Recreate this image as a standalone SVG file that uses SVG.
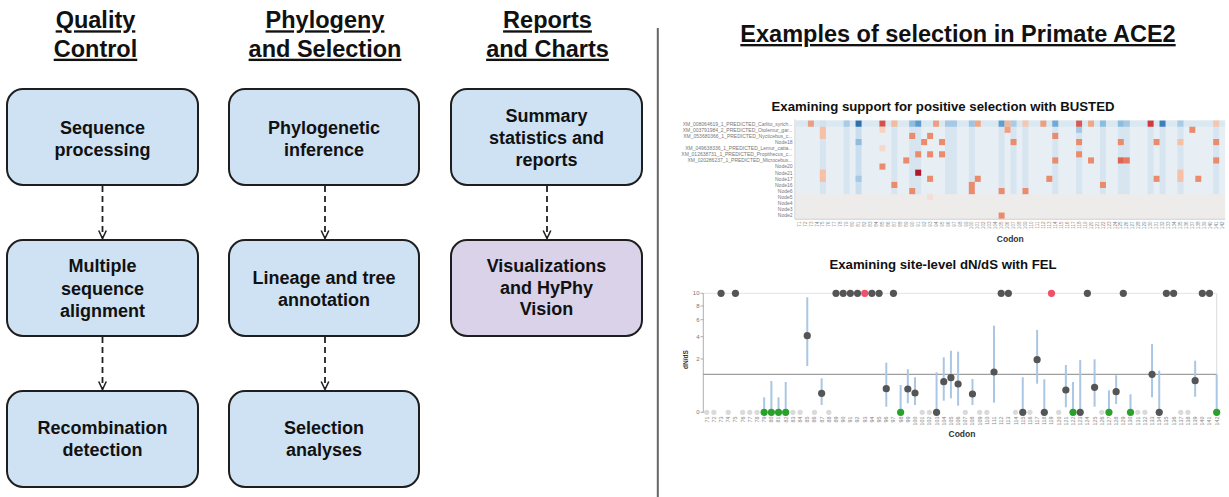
<svg xmlns="http://www.w3.org/2000/svg" width="1229" height="497" viewBox="0 0 1229 497">
<style>
text{font-family:"Liberation Sans",Arial,sans-serif}
.hdr{font-size:23.5px;font-weight:bold;text-anchor:middle;fill:#111;text-decoration:underline}
.box{fill:#cfe2f3;stroke:#1e1e1e;stroke-width:2}
.pur{fill:#d9d2e9}
.lbl{font-size:18px;font-weight:bold;text-anchor:middle;fill:#111}
.conn{stroke:#222;stroke-width:1.8;stroke-dasharray:6 4;fill:none;marker-end:url(#arr)}
.ctitle{font-size:13.2px;font-weight:bold;text-anchor:middle;fill:#111}
.axt{font-size:8.5px;font-weight:bold;text-anchor:middle;fill:#333}
.rl{font-size:5px;text-anchor:end;fill:#777}
.hx{font-size:4.6px;text-anchor:end;fill:#888}
.fx{font-size:5.4px;text-anchor:end;fill:#888}
.yt{font-size:6px;text-anchor:end;fill:#777}
.bb{fill:#bcd7ec;opacity:.38}
.o{fill:#ea8c6c}
.ol{fill:#f6c0a6}
.bar{stroke:#a9c7e4;stroke-width:2}
.pt{fill:#555}
.gh{fill:#dadada}
.gr{fill:#2ca02c}
.rd{fill:#f05068}
</style>
<defs>
<marker id="arr" markerUnits="userSpaceOnUse" markerWidth="12" markerHeight="12" viewBox="-1 -6 12 12" refX="9" refY="0" orient="auto">
<path d="M1,-3.8 L9,0 L1,3.8" fill="none" stroke="#222" stroke-width="1.6"/>
</marker>
</defs>
<rect width="1229" height="497" fill="#ffffff"/>

<!-- headers -->
<g id="headers">
<text class="hdr" x="95.5" y="28.3">Quality</text>
<text class="hdr" x="95.5" y="56.7">Control</text>
<text class="hdr" x="325" y="28.3">Phylogeny</text>
<text class="hdr" x="325" y="56.7">and Selection</text>
<text class="hdr" x="547.5" y="28.3">Reports</text>
<text class="hdr" x="547.5" y="56.7">and Charts</text>
<text class="hdr" x="958" y="42">Examples of selection in Primate ACE2</text>
</g>
<line x1="657.8" y1="28" x2="657.8" y2="497" stroke="#666" stroke-width="2"/>

<!-- nodes -->
<g id="node-sequence-processing"><rect class="box" x="7" y="89" width="191" height="96" rx="16"/>
<text class="lbl" x="102.5" y="134">Sequence</text><text class="lbl" x="102.5" y="156">processing</text></g>
<g id="node-msa"><rect class="box" x="7" y="240" width="191" height="96" rx="16"/>
<text class="lbl" x="102.5" y="272">Multiple</text><text class="lbl" x="102.5" y="294.5">sequence</text><text class="lbl" x="102.5" y="317">alignment</text></g>
<g id="node-recombination"><rect class="box" x="7" y="391" width="191" height="96" rx="16"/>
<text class="lbl" x="102.5" y="433.5">Recombination</text><text class="lbl" x="102.5" y="456">detection</text></g>

<g id="node-phylogenetic"><rect class="box" x="229" y="89" width="190" height="96" rx="16"/>
<text class="lbl" x="324" y="134">Phylogenetic</text><text class="lbl" x="324" y="156">inference</text></g>
<g id="node-lineage"><rect class="box" x="229" y="240" width="190" height="96" rx="16"/>
<text class="lbl" x="324" y="284">Lineage and tree</text><text class="lbl" x="324" y="306">annotation</text></g>
<g id="node-selection"><rect class="box" x="229" y="391" width="190" height="96" rx="16"/>
<text class="lbl" x="324" y="433.5">Selection</text><text class="lbl" x="324" y="456">analyses</text></g>

<g id="node-summary"><rect class="box" x="451" y="89" width="191" height="96" rx="16"/>
<text class="lbl" x="546.5" y="122">Summary</text><text class="lbl" x="546.5" y="143.5">statistics and</text><text class="lbl" x="546.5" y="165.5">reports</text></g>
<g id="node-visualizations"><rect class="box pur" x="451" y="240" width="191" height="96" rx="16"/>
<text class="lbl" x="546.5" y="272">Visualizations</text><text class="lbl" x="546.5" y="293.5">and HyPhy</text><text class="lbl" x="546.5" y="315">Vision</text></g>

<!-- connectors -->
<g id="connectors">
<path class="conn" d="M102.5,186 V238.5"/>
<path class="conn" d="M102.5,337 V389.5"/>
<path class="conn" d="M325,186 V238.5"/>
<path class="conn" d="M325,337 V389.5"/>
<path class="conn" d="M547,186 V238.5"/>
</g>

<!-- BUSTED heatmap -->
<g id="chart-busted">
<text class="ctitle" x="943" y="110.5">Examining support for positive selection with BUSTED</text>
<rect x="796" y="120.6" width="429.1" height="98.1" fill="#eeeceb"/>
<rect x="796" y="120.6" width="429.1" height="73.6" fill="#e7eef4"/>
<rect x="796" y="120.6" width="429.1" height="6.13" fill="#dae8f2"/>
<g>
<rect class="bb" x="819.84" y="120.6" width="5.96" height="73.6"/>
<rect class="bb" x="843.68" y="120.6" width="5.96" height="73.6"/>
<rect class="bb" x="855.6" y="120.6" width="5.96" height="73.6" style="opacity:.7"/>
<rect class="bb" x="891.36" y="120.6" width="5.96" height="73.6"/>
<rect class="bb" x="909.24" y="120.6" width="5.96" height="73.6"/>
<rect class="bb" x="915.2" y="120.6" width="5.96" height="73.6"/>
<rect class="bb" x="945" y="120.6" width="5.96" height="73.6"/>
<rect class="bb" x="950.96" y="120.6" width="5.96" height="73.6"/>
<rect class="bb" x="968.84" y="120.6" width="5.96" height="73.6"/>
<rect class="bb" x="998.64" y="120.6" width="5.96" height="73.6"/>
<rect class="bb" x="1010.56" y="120.6" width="5.96" height="73.6"/>
<rect class="bb" x="1022.48" y="120.6" width="5.96" height="73.6"/>
<rect class="bb" x="1052.28" y="120.6" width="5.96" height="73.6"/>
<rect class="bb" x="1076.12" y="120.6" width="5.96" height="73.6"/>
<rect class="bb" x="1099.96" y="120.6" width="5.96" height="73.6"/>
<rect class="bb" x="1117.84" y="120.6" width="5.96" height="73.6"/>
<rect class="bb" x="1123.8" y="120.6" width="5.96" height="73.6"/>
<rect class="bb" x="1147.64" y="120.6" width="5.96" height="73.6"/>
<rect class="bb" x="1159.56" y="120.6" width="5.96" height="73.6"/>
<rect class="bb" x="1177.44" y="120.6" width="5.96" height="73.6"/>
<rect class="bb" x="1213.2" y="120.6" width="5.96" height="73.6"/>
</g>
<g>
<rect x="843.68" y="120.6" width="5.96" height="6.13" fill="#a9cbe6"/>
<rect x="855.6" y="120.6" width="5.96" height="6.13" fill="#2f6fae"/>
<rect x="855.6" y="138.99" width="5.96" height="6.13" fill="#8fbde0"/>
<rect x="855.6" y="175.77" width="5.96" height="6.13" fill="#a5c8e5"/>
<rect x="909.24" y="120.6" width="5.96" height="6.13" fill="#8fbde0"/>
<rect x="915.2" y="120.6" width="5.96" height="6.13" fill="#5a9bd0"/>
<rect x="945" y="120.6" width="5.96" height="6.13" fill="#a5c8e5"/>
<rect x="950.96" y="120.6" width="5.96" height="6.13" fill="#a5c8e5"/>
<rect x="968.84" y="120.6" width="5.96" height="6.13" fill="#9cc5e5"/>
<rect x="998.64" y="120.6" width="5.96" height="6.13" fill="#5d9fd1"/>
<rect x="1010.56" y="120.6" width="5.96" height="6.13" fill="#a9cbe6"/>
<rect x="1052.28" y="120.6" width="5.96" height="6.13" fill="#6fa9d6"/>
<rect x="1076.12" y="126.73" width="5.96" height="6.13" fill="#a5c8e5"/>
<rect x="1099.96" y="120.6" width="5.96" height="6.13" fill="#8cbde0"/>
<rect x="1117.84" y="120.6" width="5.96" height="6.13" fill="#8cbde0"/>
<rect x="1123.8" y="120.6" width="5.96" height="6.13" fill="#a5c8e5"/>
<rect x="1159.56" y="120.6" width="5.96" height="6.13" fill="#3c7fbf"/>
<rect x="1177.44" y="120.6" width="5.96" height="6.13" fill="#a9cbe6"/>
</g>
<g>
<rect x="807.92" y="120.6" width="5.96" height="6.13" fill="#ee9d80"/>
<rect x="879.44" y="120.6" width="5.96" height="6.13" fill="#d6504a"/>
<rect x="891.36" y="120.6" width="5.96" height="6.13" fill="#f6b99c"/>
<rect x="933.08" y="120.6" width="5.96" height="6.13" fill="#ee9d80"/>
<rect x="974.8" y="120.6" width="5.96" height="6.13" fill="#f4a582"/>
<rect x="1004.6" y="120.6" width="5.96" height="6.13" fill="#f4b496"/>
<rect x="1022.48" y="120.6" width="5.96" height="6.13" fill="#f8c6ad"/>
<rect x="1040.36" y="120.6" width="5.96" height="6.13" fill="#ee9d80"/>
<rect x="1076.12" y="120.6" width="5.96" height="6.13" fill="#d9574b"/>
<rect x="1088.04" y="120.6" width="5.96" height="6.13" fill="#f4a582"/>
<rect x="1147.64" y="120.6" width="5.96" height="6.13" fill="#d2383c"/>
<rect x="1213.2" y="120.6" width="5.96" height="6.13" fill="#f7c5ae"/>

<rect class="ol" x="819.84" y="126.73" width="5.96" height="6.13"/>
<rect x="879.44" y="126.73" width="5.96" height="6.13" fill="#f8d3c0"/>
<rect x="1004.6" y="126.73" width="5.96" height="6.13" fill="#f0a07f"/>
<rect class="o" x="1189.36" y="126.73" width="5.96" height="6.13"/>

<rect class="ol" x="819.84" y="132.86" width="5.96" height="6.13"/>
<rect class="o" x="909.24" y="132.86" width="5.96" height="6.13"/>
<rect class="o" x="927.12" y="132.86" width="5.96" height="6.13"/>
<rect class="o" x="1052.28" y="132.86" width="5.96" height="6.13"/>

<rect class="o" x="921.16" y="138.99" width="5.96" height="6.13"/>
<rect class="o" x="939.04" y="138.99" width="5.96" height="6.13"/>
<rect class="o" x="1010.56" y="138.99" width="5.96" height="6.13"/>
<rect class="o" x="1076.12" y="138.99" width="5.96" height="6.13"/>
<rect class="o" x="1117.84" y="138.99" width="5.96" height="6.13"/>
<rect class="o" x="1153.6" y="138.99" width="5.96" height="6.13"/>
<rect class="ol" x="1177.44" y="138.99" width="5.96" height="6.13"/>
<rect class="o" x="1213.2" y="138.99" width="5.96" height="6.13"/>

<rect x="879.44" y="145.12" width="5.96" height="6.13" fill="#f7d8ca"/>

<rect class="o" x="915.2" y="151.25" width="5.96" height="6.13"/>
<rect class="o" x="927.12" y="151.25" width="5.96" height="6.13"/>
<rect class="o" x="939.04" y="151.25" width="5.96" height="6.13"/>
<rect class="o" x="1076.12" y="151.25" width="5.96" height="6.13"/>

<rect class="o" x="903.28" y="157.38" width="5.96" height="6.13"/>
<rect class="o" x="1052.28" y="157.38" width="5.96" height="6.13"/>
<rect class="o" x="1088.04" y="157.38" width="5.96" height="6.13"/>
<rect x="1117.84" y="157.38" width="5.96" height="6.13" fill="#dc6450"/>
<rect x="1123.8" y="157.38" width="5.96" height="6.13" fill="#e47a62"/>
<rect class="o" x="1213.2" y="157.38" width="5.96" height="6.13"/>

<rect class="o" x="879.44" y="163.51" width="5.96" height="6.13"/>

<rect class="ol" x="819.84" y="169.64" width="5.96" height="6.13"/>
<rect x="915.2" y="169.64" width="5.96" height="6.13" fill="#b2182b"/>
<rect class="ol" x="1177.44" y="169.64" width="5.96" height="6.13"/>

<rect class="ol" x="819.84" y="175.77" width="5.96" height="6.13"/>
<rect class="o" x="927.12" y="175.77" width="5.96" height="6.13"/>
<rect class="o" x="974.8" y="175.77" width="5.96" height="6.13"/>
<rect class="o" x="1046.32" y="175.77" width="5.96" height="6.13"/>
<rect class="o" x="1153.6" y="175.77" width="5.96" height="6.13"/>
<rect class="ol" x="1177.44" y="175.77" width="5.96" height="6.13"/>
<rect class="o" x="1195.32" y="175.77" width="5.96" height="6.13"/>

<rect class="o" x="891.36" y="181.9" width="5.96" height="6.13"/>
<rect class="o" x="968.84" y="181.9" width="5.96" height="6.13"/>
<rect class="o" x="1099.96" y="181.9" width="5.96" height="6.13"/>

<rect class="o" x="909.24" y="188.03" width="5.96" height="6.13"/>
<rect class="o" x="968.84" y="188.03" width="5.96" height="6.13"/>
<rect class="o" x="998.64" y="188.03" width="5.96" height="6.13"/>
<rect class="o" x="1022.48" y="188.03" width="5.96" height="6.13"/>

<rect x="927.12" y="194.16" width="5.96" height="6.13" fill="#f2e0d8"/>
<rect class="o" x="998.64" y="212.55" width="5.96" height="6.13"/>
</g>
<line x1="795" y1="119.5" x2="795" y2="219" stroke="#aaa" stroke-width="0.6"/>
<line x1="795" y1="219.2" x2="1225.2" y2="219.2" stroke="#aaa" stroke-width="0.6"/>
<g>
<text class="rl" x="792.5" y="125.5">XM_008064619_1_PREDICTED_Carlito_syrich...</text>
<text class="rl" x="792.5" y="131.6">XM_003791984_2_PREDICTED_Otolemur_gar...</text>
<text class="rl" x="792.5" y="137.7">XM_053680366_1_PREDICTED_Nycticebus_c...</text>
<text class="rl" x="792.5" y="143.9">Node18</text>
<text class="rl" x="792.5" y="150">XM_049638336_1_PREDICTED_Lemur_catta...</text>
<text class="rl" x="792.5" y="156.1">XM_012638731_1_PREDICTED_Propithecus_c...</text>
<text class="rl" x="792.5" y="162.3">XM_020286237_1_PREDICTED_Microcebus...</text>
<text class="rl" x="792.5" y="168.4">Node20</text>
<text class="rl" x="792.5" y="174.5">Node21</text>
<text class="rl" x="792.5" y="180.6">Node17</text>
<text class="rl" x="792.5" y="186.8">Node16</text>
<text class="rl" x="792.5" y="192.9">Node6</text>
<text class="rl" x="792.5" y="199">Node5</text>
<text class="rl" x="792.5" y="205.2">Node4</text>
<text class="rl" x="792.5" y="211.3">Node3</text>
<text class="rl" x="792.5" y="217.4">Node2</text>
</g>
<g>
<text class="hx" transform="translate(800.6,221.5) rotate(-90)">71</text>
<text class="hx" transform="translate(806.5,221.5) rotate(-90)">72</text>
<text class="hx" transform="translate(812.5,221.5) rotate(-90)">73</text>
<text class="hx" transform="translate(818.5,221.5) rotate(-90)">74</text>
<text class="hx" transform="translate(824.4,221.5) rotate(-90)">75</text>
<text class="hx" transform="translate(830.4,221.5) rotate(-90)">76</text>
<text class="hx" transform="translate(836.3,221.5) rotate(-90)">77</text>
<text class="hx" transform="translate(842.3,221.5) rotate(-90)">78</text>
<text class="hx" transform="translate(848.3,221.5) rotate(-90)">79</text>
<text class="hx" transform="translate(854.2,221.5) rotate(-90)">80</text>
<text class="hx" transform="translate(860.2,221.5) rotate(-90)">81</text>
<text class="hx" transform="translate(866.1,221.5) rotate(-90)">82</text>
<text class="hx" transform="translate(872.1,221.5) rotate(-90)">83</text>
<text class="hx" transform="translate(878.1,221.5) rotate(-90)">84</text>
<text class="hx" transform="translate(884,221.5) rotate(-90)">85</text>
<text class="hx" transform="translate(890,221.5) rotate(-90)">86</text>
<text class="hx" transform="translate(895.9,221.5) rotate(-90)">87</text>
<text class="hx" transform="translate(901.9,221.5) rotate(-90)">88</text>
<text class="hx" transform="translate(907.9,221.5) rotate(-90)">89</text>
<text class="hx" transform="translate(913.8,221.5) rotate(-90)">90</text>
<text class="hx" transform="translate(919.8,221.5) rotate(-90)">91</text>
<text class="hx" transform="translate(925.7,221.5) rotate(-90)">92</text>
<text class="hx" transform="translate(931.7,221.5) rotate(-90)">93</text>
<text class="hx" transform="translate(937.7,221.5) rotate(-90)">94</text>
<text class="hx" transform="translate(943.6,221.5) rotate(-90)">95</text>
<text class="hx" transform="translate(949.6,221.5) rotate(-90)">96</text>
<text class="hx" transform="translate(955.5,221.5) rotate(-90)">97</text>
<text class="hx" transform="translate(961.5,221.5) rotate(-90)">98</text>
<text class="hx" transform="translate(967.5,221.5) rotate(-90)">99</text>
<text class="hx" transform="translate(973.4,221.5) rotate(-90)">100</text>
<text class="hx" transform="translate(979.4,221.5) rotate(-90)">101</text>
<text class="hx" transform="translate(985.3,221.5) rotate(-90)">102</text>
<text class="hx" transform="translate(991.3,221.5) rotate(-90)">103</text>
<text class="hx" transform="translate(997.3,221.5) rotate(-90)">104</text>
<text class="hx" transform="translate(1003.2,221.5) rotate(-90)">105</text>
<text class="hx" transform="translate(1009.2,221.5) rotate(-90)">106</text>
<text class="hx" transform="translate(1015.1,221.5) rotate(-90)">107</text>
<text class="hx" transform="translate(1021.1,221.5) rotate(-90)">108</text>
<text class="hx" transform="translate(1027.1,221.5) rotate(-90)">109</text>
<text class="hx" transform="translate(1033,221.5) rotate(-90)">110</text>
<text class="hx" transform="translate(1039,221.5) rotate(-90)">111</text>
<text class="hx" transform="translate(1044.9,221.5) rotate(-90)">112</text>
<text class="hx" transform="translate(1050.9,221.5) rotate(-90)">113</text>
<text class="hx" transform="translate(1056.9,221.5) rotate(-90)">114</text>
<text class="hx" transform="translate(1062.8,221.5) rotate(-90)">115</text>
<text class="hx" transform="translate(1068.8,221.5) rotate(-90)">116</text>
<text class="hx" transform="translate(1074.7,221.5) rotate(-90)">117</text>
<text class="hx" transform="translate(1080.7,221.5) rotate(-90)">118</text>
<text class="hx" transform="translate(1086.7,221.5) rotate(-90)">119</text>
<text class="hx" transform="translate(1092.6,221.5) rotate(-90)">120</text>
<text class="hx" transform="translate(1098.6,221.5) rotate(-90)">121</text>
<text class="hx" transform="translate(1104.5,221.5) rotate(-90)">122</text>
<text class="hx" transform="translate(1110.5,221.5) rotate(-90)">123</text>
<text class="hx" transform="translate(1116.5,221.5) rotate(-90)">124</text>
<text class="hx" transform="translate(1122.4,221.5) rotate(-90)">125</text>
<text class="hx" transform="translate(1128.4,221.5) rotate(-90)">126</text>
<text class="hx" transform="translate(1134.3,221.5) rotate(-90)">127</text>
<text class="hx" transform="translate(1140.3,221.5) rotate(-90)">128</text>
<text class="hx" transform="translate(1146.3,221.5) rotate(-90)">129</text>
<text class="hx" transform="translate(1152.2,221.5) rotate(-90)">130</text>
<text class="hx" transform="translate(1158.2,221.5) rotate(-90)">131</text>
<text class="hx" transform="translate(1164.1,221.5) rotate(-90)">132</text>
<text class="hx" transform="translate(1170.1,221.5) rotate(-90)">133</text>
<text class="hx" transform="translate(1176.1,221.5) rotate(-90)">134</text>
<text class="hx" transform="translate(1182,221.5) rotate(-90)">135</text>
<text class="hx" transform="translate(1188,221.5) rotate(-90)">136</text>
<text class="hx" transform="translate(1193.9,221.5) rotate(-90)">137</text>
<text class="hx" transform="translate(1199.9,221.5) rotate(-90)">138</text>
<text class="hx" transform="translate(1205.9,221.5) rotate(-90)">139</text>
<text class="hx" transform="translate(1211.8,221.5) rotate(-90)">140</text>
<text class="hx" transform="translate(1217.8,221.5) rotate(-90)">141</text>
<text class="hx" transform="translate(1223.7,221.5) rotate(-90)">142</text>
</g>
<text class="axt" x="1010.3" y="241.5">Codon</text>
</g>

<!-- FEL dot plot -->
<g id="chart-fel">
<text class="ctitle" x="943" y="269">Examining site-level dN/dS with FEL</text>
<line x1="703.3" y1="293.3" x2="1216.7" y2="293.3" stroke="#e4e4e4" stroke-width="1"/>
<line x1="1216.7" y1="293.3" x2="1216.7" y2="374.3" stroke="#dcdcdc" stroke-width="1"/>
<line x1="703.3" y1="293.3" x2="703.3" y2="412.8" stroke="#999" stroke-width="0.8"/>
<g stroke="#999" stroke-width="0.8">
<line x1="700.5" y1="293.3" x2="703.3" y2="293.3"/><line x1="700.5" y1="306" x2="703.3" y2="306"/>
<line x1="700.5" y1="319.7" x2="703.3" y2="319.7"/><line x1="700.5" y1="336.7" x2="703.3" y2="336.7"/>
<line x1="700.5" y1="359" x2="703.3" y2="359"/><line x1="700.5" y1="412.3" x2="703.3" y2="412.3"/>
</g>
<text class="yt" x="699.5" y="295.4">10</text><text class="yt" x="699.5" y="308.1">8</text>
<text class="yt" x="699.5" y="321.8">6</text><text class="yt" x="699.5" y="338.8">4</text>
<text class="yt" x="699.5" y="361.1">2</text><text class="yt" x="699.5" y="414.4">0</text>
<text transform="translate(687.5,359.5) rotate(-90)" style="font-size:6.5px;font-weight:bold;text-anchor:middle;fill:#333">dN/dS</text>
<line x1="703.3" y1="374.3" x2="1216.7" y2="374.3" stroke="#888" stroke-width="1"/>
<g>
<line class="bar" x1="807.26" y1="297.3" x2="807.26" y2="366"/>
<line class="bar" x1="821.63" y1="378.3" x2="821.63" y2="405"/>
<line class="bar" x1="886.28" y1="362.7" x2="886.28" y2="406.7"/>
<line class="bar" x1="907.82" y1="369.3" x2="907.82" y2="403.3"/>
<line class="bar" x1="915.01" y1="377.3" x2="915.01" y2="405"/>
<line class="bar" x1="943.74" y1="357.3" x2="943.74" y2="400.7"/>
<line class="bar" x1="950.92" y1="350.7" x2="950.92" y2="398.3"/>
<line class="bar" x1="958.11" y1="351.7" x2="958.11" y2="405.7"/>
<line class="bar" x1="972.47" y1="379" x2="972.47" y2="405"/>
<line class="bar" x1="994.02" y1="325.7" x2="994.02" y2="402.7"/>
<line class="bar" x1="1037.12" y1="330" x2="1037.12" y2="383.7"/>
<line class="bar" x1="1065.85" y1="365" x2="1065.85" y2="407.3"/>
<line class="bar" x1="1094.58" y1="359.3" x2="1094.58" y2="406.7"/>
<line class="bar" x1="1116.13" y1="375.3" x2="1116.13" y2="404"/>
<line class="bar" x1="1152.05" y1="344" x2="1152.05" y2="397.3"/>
<line class="bar" x1="1195.14" y1="360.7" x2="1195.14" y2="396.7"/>
<line class="bar" x1="936.56" y1="372.3" x2="936.56" y2="412.3"/>
<line class="bar" x1="1022.75" y1="377.3" x2="1022.75" y2="412.3"/>
<line class="bar" x1="1044.3" y1="379.3" x2="1044.3" y2="412.3"/>
<line class="bar" x1="1080.22" y1="360" x2="1080.22" y2="412.3"/>
<line class="bar" x1="1159.23" y1="370.7" x2="1159.23" y2="412.3"/>
<line class="bar" x1="764.16" y1="397.3" x2="764.16" y2="412.3"/>
<line class="bar" x1="771.35" y1="381" x2="771.35" y2="412.3"/>
<line class="bar" x1="778.53" y1="397.3" x2="778.53" y2="412.3"/>
<line class="bar" x1="785.71" y1="382" x2="785.71" y2="412.3"/>
<line class="bar" x1="900.64" y1="385" x2="900.64" y2="412.3"/>
<line class="bar" x1="1073.03" y1="382" x2="1073.03" y2="412.3"/>
<line class="bar" x1="1108.95" y1="390.3" x2="1108.95" y2="412.3"/>
<line class="bar" x1="1130.5" y1="394.3" x2="1130.5" y2="412.3"/>
<line class="bar" x1="1216.69" y1="374.3" x2="1216.69" y2="412.3"/>
</g>
<g>
<circle class="gh" cx="706.7" cy="412.3" r="2.6"/><circle class="gh" cx="713.88" cy="412.3" r="2.6"/>
<circle class="gh" cx="728.25" cy="412.3" r="2.6"/><circle class="gh" cx="742.62" cy="412.3" r="2.6"/>
<circle class="gh" cx="749.8" cy="412.3" r="2.6"/><circle class="gh" cx="756.98" cy="412.3" r="2.6"/>
<circle class="gh" cx="792.9" cy="412.3" r="2.6"/><circle class="gh" cx="800.08" cy="412.3" r="2.6"/>
<circle class="gh" cx="814.45" cy="412.3" r="2.6"/><circle class="gh" cx="828.81" cy="412.3" r="2.6"/>
<circle class="gh" cx="922.19" cy="412.3" r="2.6"/><circle class="gh" cx="929.37" cy="412.3" r="2.6"/>
<circle class="gh" cx="965.29" cy="412.3" r="2.6"/><circle class="gh" cx="979.65" cy="412.3" r="2.6"/>
<circle class="gh" cx="986.84" cy="412.3" r="2.6"/><circle class="gh" cx="1015.57" cy="412.3" r="2.6"/>
<circle class="gh" cx="1029.94" cy="412.3" r="2.6"/><circle class="gh" cx="1058.67" cy="412.3" r="2.6"/>
<circle class="gh" cx="1101.77" cy="412.3" r="2.6"/><circle class="gh" cx="1137.68" cy="412.3" r="2.6"/>
<circle class="gh" cx="1144.86" cy="412.3" r="2.6"/><circle class="gh" cx="1180.78" cy="412.3" r="2.6"/>
<circle class="gh" cx="1187.96" cy="412.3" r="2.6"/>
</g>
<g>
<circle class="pt" cx="721.07" cy="293.3" r="3.6"/><circle class="pt" cx="735.43" cy="293.3" r="3.6"/>
<circle class="pt" cx="835.99" cy="293.3" r="3.6"/><circle class="pt" cx="843.18" cy="293.3" r="3.6"/>
<circle class="pt" cx="850.36" cy="293.3" r="3.6"/><circle class="pt" cx="857.54" cy="293.3" r="3.6"/>
<circle class="rd" cx="864.73" cy="293.3" r="3.6"/>
<circle class="pt" cx="871.91" cy="293.3" r="3.6"/><circle class="pt" cx="879.09" cy="293.3" r="3.6"/>
<circle class="pt" cx="893.46" cy="293.3" r="3.6"/>
<circle class="pt" cx="1001.2" cy="293.3" r="3.6"/><circle class="pt" cx="1008.39" cy="293.3" r="3.6"/>
<circle class="rd" cx="1051.48" cy="293.3" r="3.6"/>
<circle class="pt" cx="1087.4" cy="293.3" r="3.6"/><circle class="pt" cx="1123.31" cy="293.3" r="3.6"/>
<circle class="pt" cx="1166.41" cy="293.3" r="3.6"/><circle class="pt" cx="1173.6" cy="293.3" r="3.6"/>
<circle class="pt" cx="1202.33" cy="293.3" r="3.6"/><circle class="pt" cx="1209.51" cy="293.3" r="3.6"/>

<circle class="pt" cx="807.26" cy="335.7" r="3.6"/><circle class="pt" cx="821.63" cy="393.3" r="3.6"/>
<circle class="pt" cx="886.28" cy="388.7" r="3.6"/><circle class="pt" cx="907.82" cy="389" r="3.6"/>
<circle class="pt" cx="915.01" cy="393" r="3.6"/><circle class="pt" cx="943.74" cy="381.7" r="3.6"/>
<circle class="pt" cx="950.92" cy="377.7" r="3.6"/><circle class="pt" cx="958.11" cy="384" r="3.6"/>
<circle class="pt" cx="972.47" cy="394" r="3.6"/><circle class="pt" cx="994.02" cy="372" r="3.6"/>
<circle class="pt" cx="1037.12" cy="359.7" r="3.6"/><circle class="pt" cx="1065.85" cy="390" r="3.6"/>
<circle class="pt" cx="1094.58" cy="387.3" r="3.6"/><circle class="pt" cx="1116.13" cy="391.7" r="3.6"/>
<circle class="pt" cx="1152.05" cy="374.3" r="3.6"/><circle class="pt" cx="1195.14" cy="380.7" r="3.6"/>

<circle class="pt" cx="936.56" cy="412.3" r="3.6"/><circle class="pt" cx="1022.75" cy="412.3" r="3.6"/>
<circle class="pt" cx="1044.3" cy="412.3" r="3.6"/><circle class="pt" cx="1080.22" cy="412.3" r="3.6"/>
<circle class="pt" cx="1159.23" cy="412.3" r="3.6"/>

<circle class="gr" cx="764.16" cy="412.3" r="3.6"/><circle class="gr" cx="771.35" cy="412.3" r="3.6"/>
<circle class="gr" cx="778.53" cy="412.3" r="3.6"/><circle class="gr" cx="785.71" cy="412.3" r="3.6"/>
<circle class="gr" cx="900.64" cy="412.3" r="3.6"/><circle class="gr" cx="1073.03" cy="412.3" r="3.6"/>
<circle class="gr" cx="1108.95" cy="412.3" r="3.6"/><circle class="gr" cx="1130.5" cy="412.3" r="3.6"/>
<circle class="gr" cx="1216.69" cy="412.3" r="3.6"/>
</g>
<g>
<text class="fx" transform="translate(708.6,416.5) rotate(-90)">71</text>
<text class="fx" transform="translate(715.8,416.5) rotate(-90)">72</text>
<text class="fx" transform="translate(723,416.5) rotate(-90)">73</text>
<text class="fx" transform="translate(730.2,416.5) rotate(-90)">74</text>
<text class="fx" transform="translate(737.3,416.5) rotate(-90)">75</text>
<text class="fx" transform="translate(744.5,416.5) rotate(-90)">76</text>
<text class="fx" transform="translate(751.7,416.5) rotate(-90)">77</text>
<text class="fx" transform="translate(758.9,416.5) rotate(-90)">78</text>
<text class="fx" transform="translate(766.1,416.5) rotate(-90)">79</text>
<text class="fx" transform="translate(773.3,416.5) rotate(-90)">80</text>
<text class="fx" transform="translate(780.4,416.5) rotate(-90)">81</text>
<text class="fx" transform="translate(787.6,416.5) rotate(-90)">82</text>
<text class="fx" transform="translate(794.8,416.5) rotate(-90)">83</text>
<text class="fx" transform="translate(802,416.5) rotate(-90)">84</text>
<text class="fx" transform="translate(809.2,416.5) rotate(-90)">85</text>
<text class="fx" transform="translate(816.4,416.5) rotate(-90)">86</text>
<text class="fx" transform="translate(823.5,416.5) rotate(-90)">87</text>
<text class="fx" transform="translate(830.7,416.5) rotate(-90)">88</text>
<text class="fx" transform="translate(837.9,416.5) rotate(-90)">89</text>
<text class="fx" transform="translate(845.1,416.5) rotate(-90)">90</text>
<text class="fx" transform="translate(852.3,416.5) rotate(-90)">91</text>
<text class="fx" transform="translate(859.4,416.5) rotate(-90)">92</text>
<text class="fx" transform="translate(866.6,416.5) rotate(-90)">93</text>
<text class="fx" transform="translate(873.8,416.5) rotate(-90)">94</text>
<text class="fx" transform="translate(881,416.5) rotate(-90)">95</text>
<text class="fx" transform="translate(888.2,416.5) rotate(-90)">96</text>
<text class="fx" transform="translate(895.4,416.5) rotate(-90)">97</text>
<text class="fx" transform="translate(902.5,416.5) rotate(-90)">98</text>
<text class="fx" transform="translate(909.7,416.5) rotate(-90)">99</text>
<text class="fx" transform="translate(916.9,416.5) rotate(-90)">100</text>
<text class="fx" transform="translate(924.1,416.5) rotate(-90)">101</text>
<text class="fx" transform="translate(931.3,416.5) rotate(-90)">102</text>
<text class="fx" transform="translate(938.5,416.5) rotate(-90)">103</text>
<text class="fx" transform="translate(945.6,416.5) rotate(-90)">104</text>
<text class="fx" transform="translate(952.8,416.5) rotate(-90)">105</text>
<text class="fx" transform="translate(960,416.5) rotate(-90)">106</text>
<text class="fx" transform="translate(967.2,416.5) rotate(-90)">107</text>
<text class="fx" transform="translate(974.4,416.5) rotate(-90)">108</text>
<text class="fx" transform="translate(981.6,416.5) rotate(-90)">109</text>
<text class="fx" transform="translate(988.7,416.5) rotate(-90)">110</text>
<text class="fx" transform="translate(995.9,416.5) rotate(-90)">111</text>
<text class="fx" transform="translate(1003.1,416.5) rotate(-90)">112</text>
<text class="fx" transform="translate(1010.3,416.5) rotate(-90)">113</text>
<text class="fx" transform="translate(1017.5,416.5) rotate(-90)">114</text>
<text class="fx" transform="translate(1024.7,416.5) rotate(-90)">115</text>
<text class="fx" transform="translate(1031.8,416.5) rotate(-90)">116</text>
<text class="fx" transform="translate(1039,416.5) rotate(-90)">117</text>
<text class="fx" transform="translate(1046.2,416.5) rotate(-90)">118</text>
<text class="fx" transform="translate(1053.4,416.5) rotate(-90)">119</text>
<text class="fx" transform="translate(1060.6,416.5) rotate(-90)">120</text>
<text class="fx" transform="translate(1067.7,416.5) rotate(-90)">121</text>
<text class="fx" transform="translate(1074.9,416.5) rotate(-90)">122</text>
<text class="fx" transform="translate(1082.1,416.5) rotate(-90)">123</text>
<text class="fx" transform="translate(1089.3,416.5) rotate(-90)">124</text>
<text class="fx" transform="translate(1096.5,416.5) rotate(-90)">125</text>
<text class="fx" transform="translate(1103.7,416.5) rotate(-90)">126</text>
<text class="fx" transform="translate(1110.8,416.5) rotate(-90)">127</text>
<text class="fx" transform="translate(1118,416.5) rotate(-90)">128</text>
<text class="fx" transform="translate(1125.2,416.5) rotate(-90)">129</text>
<text class="fx" transform="translate(1132.4,416.5) rotate(-90)">130</text>
<text class="fx" transform="translate(1139.6,416.5) rotate(-90)">131</text>
<text class="fx" transform="translate(1146.8,416.5) rotate(-90)">132</text>
<text class="fx" transform="translate(1153.9,416.5) rotate(-90)">133</text>
<text class="fx" transform="translate(1161.1,416.5) rotate(-90)">134</text>
<text class="fx" transform="translate(1168.3,416.5) rotate(-90)">135</text>
<text class="fx" transform="translate(1175.5,416.5) rotate(-90)">136</text>
<text class="fx" transform="translate(1182.7,416.5) rotate(-90)">137</text>
<text class="fx" transform="translate(1189.9,416.5) rotate(-90)">138</text>
<text class="fx" transform="translate(1197,416.5) rotate(-90)">139</text>
<text class="fx" transform="translate(1204.2,416.5) rotate(-90)">140</text>
<text class="fx" transform="translate(1211.4,416.5) rotate(-90)">141</text>
<text class="fx" transform="translate(1218.6,416.5) rotate(-90)">142</text>
</g>
<text class="axt" x="962" y="437">Codon</text>
</g>
</svg>
